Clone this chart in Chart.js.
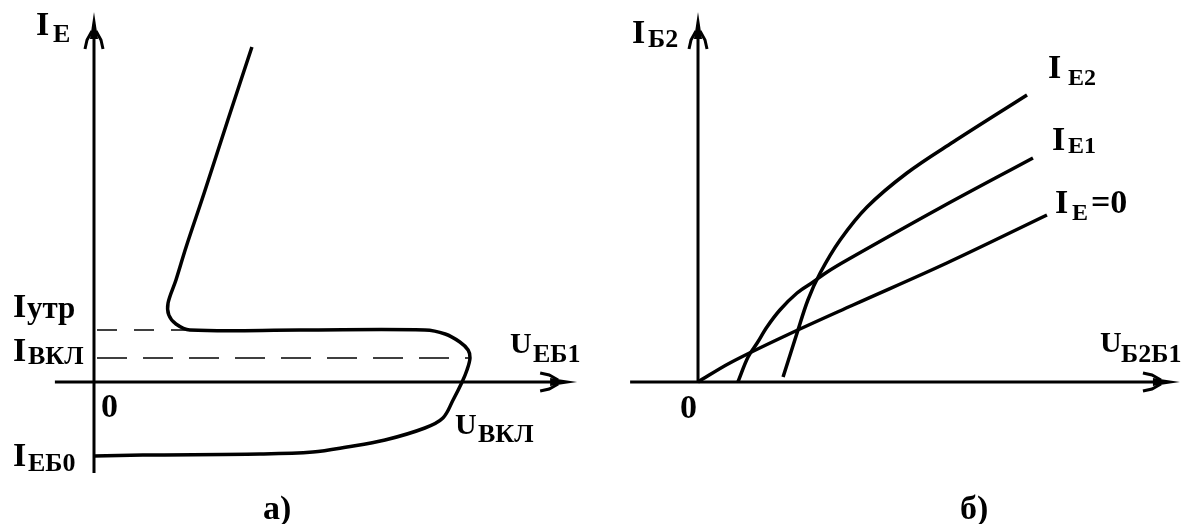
<!DOCTYPE html>
<html>
<head>
<meta charset="utf-8">
<script src="https://cdn.jsdelivr.net/npm/chart.js@4"></script>
<style>
  html, body { margin: 0; padding: 0; background: #fff; }
  body { width: 1194px; height: 524px; position: relative; overflow: hidden; }
  canvas { position: absolute; top: 0; }
  #chartA { left: 0; }
  #chartB { left: 597px; }
</style>
</head>
<body>
<canvas id="chartA" width="597" height="524"></canvas>
<canvas id="chartB" width="597" height="524"></canvas>
<script>
// а) emitter characteristic I_Е(U_ЕБ1), arbitrary units
const uEB1 = [4.20, 3.56, 2.93, 2.45, 2.18, 1.97, 1.99, 2.18, 2.55, 5.48, 8.80, 9.34, 9.73, 9.95, 10.0, 9.92, 9.79, 9.55, 9.28, 8.80, 7.74, 6.73, 5.82, 4.41, 1.30, 0];
const iE   = [13.4, 10.48, 7.56, 5.40, 4.08, 3.16, 2.68, 2.32, 2.08, 2.08, 2.08, 1.92, 1.60, 1.28, 0.96, 0.48, 0, -0.72, -1.44, -1.84, -2.32, -2.60, -2.80, -2.88, -2.92, -2.96];
const iUtr = 2.08;   // valley current level
const uUtr = 2.55;
const iVkl = 0.96;   // switch-on current level
const uVkl = 10.0;

// б) base-2 current I_Б2(U_Б2Б1) for three emitter currents
const uB2B1_0 = [0, 0.91, 2.5, 4.43, 7.11, 9.97];
const iB2_0   = [0, 0.76, 1.85, 3.08, 4.76, 6.68];
const uB2B1_1 = [1.14, 1.43, 1.69, 1.97, 2.34, 2.83, 3.29, 3.69, 4.26, 6.91, 9.57];
const iB2_1   = [0, 1.0, 1.56, 2.2, 2.88, 3.56, 4.0, 4.4, 4.88, 6.96, 8.96];
const uB2B1_2 = [2.43, 2.63, 2.83, 3.14, 3.49, 4.06, 4.83, 5.97, 7.29, 9.4];
const iB2_2   = [0.2, 1.08, 1.96, 3.28, 4.36, 5.68, 7.0, 8.36, 9.6, 11.48];

const FONT = '"Liberation Serif", "Times New Roman", serif';

function pts(xs, ys) {
    return xs.map((x, i) => ({ x: x, y: ys[i] }));
}

function curve(data, extra) {
    return Object.assign({
        data: data,
        showLine: true,
        borderColor: '#000',
        borderWidth: 3.5,
        pointRadius: 0,
        tension: 0.35,
        fill: false
    }, extra || {});
}

// Arrow head at (x, y) pointing along angle (radians)
function arrowHead(ctx, x, y, angle) {
    ctx.save();
    ctx.translate(x, y);
    ctx.rotate(angle);
    ctx.fillStyle = '#000';
    ctx.beginPath();
    ctx.moveTo(0, 0);
    ctx.lineTo(-27, -4);
    ctx.lineTo(-27, 4);
    ctx.closePath();
    ctx.fill();
    ctx.lineWidth = 3;
    ctx.lineCap = 'butt';
    [-1, 1].forEach(s => {
        ctx.beginPath();
        ctx.moveTo(-37, 9 * s);
        ctx.lineTo(-28, 7 * s);
        ctx.lineTo(-19, 2 * s);
        ctx.stroke();
    });
    ctx.restore();
}

// main letter with a subscript, optional tail in main size
function label(ctx, parts) {
    ctx.save();
    ctx.fillStyle = '#000';
    ctx.textBaseline = 'alphabetic';
    parts.forEach(p => {
        ctx.font = 'bold ' + p.size + 'px ' + FONT;
        ctx.fillText(p.t, p.x, p.y);
    });
    ctx.restore();
}

// Draws the two axes with arrows plus the text labels
const axesPlugin = {
    id: 'axesPlugin',
    afterDatasetsDraw(chart, args, opts) {
        const ctx = chart.ctx;
        const sx = chart.scales.x, sy = chart.scales.y;
        const x0 = sx.getPixelForValue(0), y0 = sy.getPixelForValue(0);
        const xa = sx.getPixelForValue(opts.xFrom), xb = sx.getPixelForValue(opts.xTo);
        const ya = sy.getPixelForValue(opts.yFrom), yb = sy.getPixelForValue(opts.yTo);
        ctx.save();
        ctx.strokeStyle = '#000';
        ctx.lineWidth = 3;
        ctx.beginPath();
        ctx.moveTo(xa, y0);
        ctx.lineTo(xb - 20, y0);
        ctx.moveTo(x0, ya);
        ctx.lineTo(x0, yb + 20);
        ctx.stroke();
        ctx.restore();
        arrowHead(ctx, xb, y0, 0);
        arrowHead(ctx, x0, yb, -Math.PI / 2);
        opts.labels.forEach(l => label(ctx, l));
    }
};

function makeChart(id, datasets, range, axes) {
    return new Chart(document.getElementById(id), {
        type: 'scatter',
        data: { datasets: datasets },
        options: {
            responsive: false,
            animation: false,
            devicePixelRatio: 1,
            layout: { padding: 0 },
            scales: {
                x: { type: 'linear', display: false, min: range.xMin, max: range.xMax },
                y: { type: 'linear', display: false, min: range.yMin, max: range.yMax }
            },
            plugins: {
                legend: { display: false },
                tooltip: { enabled: false },
                axesPlugin: axes
            }
        },
        plugins: [axesPlugin]
    });
}

const M = 34, S = 26;

makeChart('chartA', [
    curve(pts(uEB1, iE)),
    curve([{ x: 0.08, y: iUtr }, { x: uUtr, y: iUtr }], { borderWidth: 1.4, borderDash: [20, 17], tension: 0 }),
    curve([{ x: 0.08, y: iVkl }, { x: uVkl, y: iVkl }], { borderWidth: 1.4, borderDash: [30, 16], tension: 0 })
], { xMin: -2.5, xMax: 13.378, yMin: -5.68, yMax: 15.28 }, {
    xFrom: -1.04, xTo: 12.85, yFrom: -3.64, yTo: 14.8,
    labels: [
        [{ t: 'I', x: 36, y: 35, size: M }, { t: 'Е', x: 53, y: 42, size: S }],
        [{ t: 'I', x: 13, y: 317, size: M }, { t: 'утр', x: 27, y: 318, size: 31 }],
        [{ t: 'I', x: 13, y: 361, size: M }, { t: 'ВКЛ', x: 28, y: 364, size: S }],
        [{ t: 'I', x: 13, y: 466, size: M }, { t: 'ЕБ0', x: 28, y: 471, size: S }],
        [{ t: '0', x: 101, y: 417, size: M }],
        [{ t: 'U', x: 510, y: 353, size: 30 }, { t: 'ЕБ1', x: 533, y: 362, size: S }],
        [{ t: 'U', x: 455, y: 434, size: 30 }, { t: 'ВКЛ', x: 478, y: 442, size: S }],
        [{ t: 'а)', x: 263, y: 519, size: M }]
    ]
});

makeChart('chartB', [
    curve(pts(uB2B1_0, iB2_0)),
    curve(pts(uB2B1_1, iB2_1)),
    curve(pts(uB2B1_2, iB2_2))
], { xMin: -2.886, xMax: 14.171, yMin: -5.68, yMax: 15.28 }, {
    xFrom: -1.94, xTo: 13.77, yFrom: 0, yTo: 14.8,
    labels: [
        [{ t: 'I', x: 35, y: 43, size: M }, { t: 'Б2', x: 51, y: 47, size: S }],
        [{ t: '0', x: 83, y: 418, size: M }],
        [{ t: 'I', x: 451, y: 78, size: M }, { t: 'Е2', x: 471, y: 85, size: 24 }],
        [{ t: 'I', x: 455, y: 150, size: M }, { t: 'Е1', x: 471, y: 153, size: 24 }],
        [{ t: 'I', x: 458, y: 213, size: M }, { t: 'Е', x: 475, y: 220, size: 24 }, { t: '=0', x: 494, y: 213, size: M }],
        [{ t: 'U', x: 503, y: 352, size: 30 }, { t: 'Б2Б1', x: 524, y: 362, size: S }],
        [{ t: 'б)', x: 363, y: 519, size: M }]
    ]
});
</script>
</body>
</html>
